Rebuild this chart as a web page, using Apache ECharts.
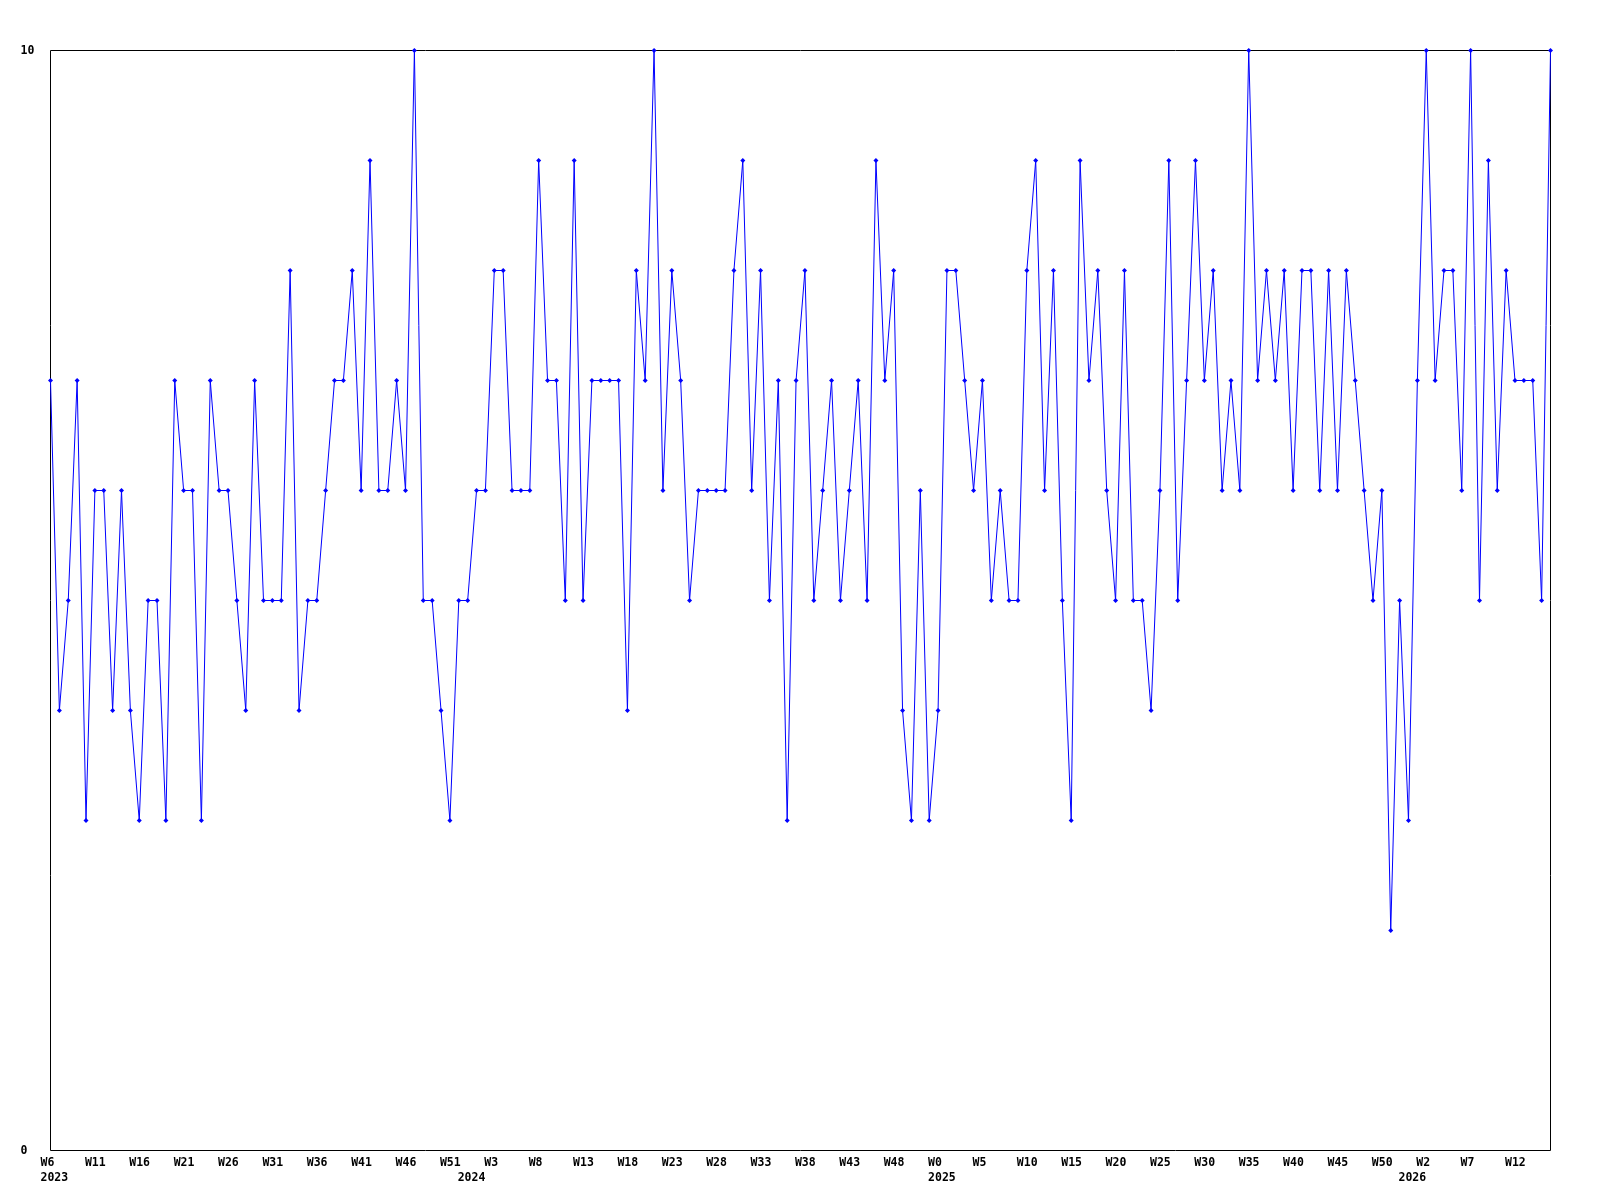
<!DOCTYPE html>
<html>
<head>
<meta charset="utf-8">
<script src="https://cdn.jsdelivr.net/npm/echarts@6/dist/echarts.min.js"></script>
<style>
html,body{margin:0;padding:0;background:#fff;}
#chart{width:1600px;height:1200px;}
</style>
</head>
<body>
<div id="chart"></div>
<script>
// Weekly values, 2023 W6 .. 2026 (170 points)
const values = [
  7,4,5,7,3,6,6,4,6,4,3,5,5,3,7,6,6,3,7,6,6,
  5,4,7,5,5,5,8,4,5,5,6,7,7,8,6,9,6,6,7,6,10,5,
  5,4,3,5,5,6,6,8,8,6,6,6,9,7,7,5,9,5,7,7,7,
  7,4,8,7,10,6,8,7,5,6,6,6,6,8,9,6,8,5,7,3,7,
  8,5,6,7,5,6,7,5,9,7,8,4,3,6,3,4,8,8,7,6,7,
  5,6,5,5,8,9,6,8,5,3,9,7,8,6,5,8,5,5,4,6,
  9,5,7,9,7,8,6,7,6,10,7,8,7,8,6,8,8,6,8,6,8,
  7,6,5,6,2,5,3,7,10,7,8,8,6,10,5,9,6,8,7,7,7,5,10
];
// Week tick labels, one every 5 points
const tickLabels = [
  'W6','W11','W16','W21','W26','W31','W36','W41','W46','W51',
  'W3','W8','W13','W18','W23','W28','W33','W38','W43','W48',
  'W0','W5','W10','W15','W20','W25','W30','W35','W40','W45',
  'W50','W2','W7','W12'
];
// Year labels and the point index where each year starts
const yearLabels = ['2023', '2024', '2025', '2026'];
const yearIndex = [0, 47, 100, 153];
const yTickLabels = ['0', '10'];

const categories = values.map((v, i) => String(i));
const font = 'DejaVu Sans Mono';

const chart = echarts.init(document.getElementById('chart'), null, {renderer: 'canvas'});
chart.setOption({
  animation: false,
  backgroundColor: '#ffffff',
  grid: {
    left: 50.5, right: 49.5, top: 50.5, bottom: 49.5,
    show: true, borderColor: '#000000', borderWidth: 1, backgroundColor: 'transparent',
    containLabel: false
  },
  xAxis: {
    type: 'category',
    data: categories,
    boundaryGap: false,
    axisLine: {show: false},
    axisTick: {show: false},
    splitLine: {show: false},
    axisLabel: {
      interval: (i) => i % 5 === 0 || yearIndex.indexOf(i) >= 0,
      formatter: (v, i) => {
        const week = i % 5 === 0 ? tickLabels[i / 5] : '';
        const yi = yearIndex.indexOf(i);
        return week + (yi >= 0 ? '\n' + yearLabels[yi] : '');
      },
      align: 'left',
      verticalAlign: 'top',
      padding: [0, 0, 0, -10],
      margin: 5,
      lineHeight: 15,
      color: '#000000',
      fontFamily: font,
      fontWeight: 'bold',
      fontSize: 11.5
    }
  },
  yAxis: {
    type: 'value',
    min: 0, max: 10, interval: 10,
    axisLine: {show: false},
    axisTick: {show: false},
    splitLine: {show: false},
    axisLabel: {
      formatter: (v) => yTickLabels[v / 10],
      align: 'left',
      verticalAlign: 'top',
      margin: 30,
      padding: [-5, 0, 0, 0],
      color: '#000000',
      fontFamily: font,
      fontWeight: 'bold',
      fontSize: 11.5
    }
  },
  series: [{
    type: 'line',
    data: values,
    symbol: 'diamond',
    symbolSize: 5,
    showSymbol: true,
    showAllSymbol: true,
    lineStyle: {color: '#0000ff', width: 1},
    itemStyle: {color: '#0000ff'},
    emphasis: {disabled: true}
  }]
});
</script>
</body>
</html>
